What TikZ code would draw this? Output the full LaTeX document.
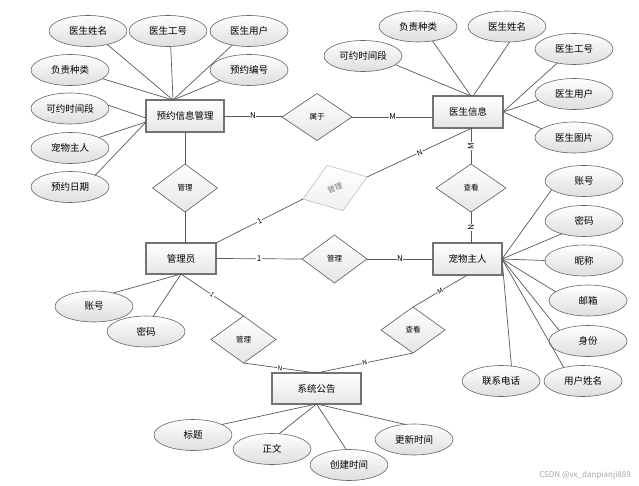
\documentclass[tikz,border=0pt]{standalone}
\usepackage{fontspec}
\setmainfont{Noto Sans CJK SC}
\usetikzlibrary{shapes.geometric}
\begin{document}
\begin{tikzpicture}[x=1pt,y=-1pt,
  line/.style={draw=black!65, line width=0.7pt},
  ent/.style={rectangle, draw=black!55, line width=1.1pt, top color=white, bottom color=black!10, inner sep=0pt, outer sep=0pt, font=\fontsize{9.5}{11}\selectfont},
  attr/.style={ellipse, draw=black!60, line width=0.6pt, top color=white, bottom color=black!13, minimum width=78pt, minimum height=31pt, inner sep=0pt, outer sep=0pt, font=\fontsize{9.5}{11}\selectfont},
  rel/.style={diamond, draw=black!65, line width=0.6pt, top color=white, bottom color=black!10, minimum width=66pt, minimum height=48pt, inner sep=0pt, outer sep=0pt, font=\fontsize{7.5}{8}\selectfont},
  dim/.style={rel, draw=black!25, top color=white, bottom color=black!6, text=black!55},
  card/.style={fill=white, inner sep=0.6pt, font=\fontsize{8}{8}\selectfont},
  cards/.style={card, font=\fontsize{6.5}{7}\selectfont, sloped},
]
\useasboundingbox (0,0) rectangle (639,486);
\fill[white] (0,0) rectangle (639,486);

% entities
\node[ent, minimum width=78pt, minimum height=32pt] (yy) at (185,116) {预约信息管理};
\node[ent, minimum width=70pt, minimum height=32pt] (ys) at (468,112) {医生信息};
\node[ent, minimum width=70pt, minimum height=31pt] (gly) at (181,258.5) {管理员};
\node[ent, minimum width=69pt, minimum height=32pt] (cw) at (467.5,259) {宠物主人};
\node[ent, minimum width=89pt, minimum height=31pt] (xt) at (316.5,388.5) {系统公告};

% relationships
\node[rel, minimum width=70pt, minimum height=47pt] (sy) at (317,117) {属于};
\node[rel, minimum width=65pt, minimum height=48pt] (gl1) at (185,188) {管理};
\node[dim, minimum width=68pt, minimum height=48pt, rotate=19] (gl0) at (335,188) {管理};
\node[rel, minimum width=70pt, minimum height=48pt] (ck1) at (471,188) {查看};
\node[rel, minimum width=65pt, minimum height=48pt] (gl3) at (334.5,259) {管理};
\node[rel, minimum width=65pt, minimum height=47pt] (gl2) at (243.5,339.5) {管理};
\node[rel, minimum width=64pt, minimum height=46pt] (ck2) at (413,330) {查看};

% attributes of 预约信息管理
\node[attr] (a1) at (88,31) {医生姓名};
\node[attr] (a2) at (168,31) {医生工号};
\node[attr] (a3) at (249,31) {医生用户};
\node[attr] (a4) at (249,70) {预约编号};
\node[attr] (a5) at (70,70) {负责种类};
\node[attr] (a6) at (70,108.5) {可约时间段};
\node[attr] (a7) at (70,148) {宠物主人};
\node[attr] (a8) at (70,187) {预约日期};

% attributes of 医生信息
\node[attr] (b1) at (363,56) {可约时间段};
\node[attr] (b2) at (418,26.5) {负责种类};
\node[attr] (b3) at (507,26.5) {医生姓名};
\node[attr] (b4) at (574,49) {医生工号};
\node[attr] (b5) at (574,94) {医生用户};
\node[attr] (b6) at (574,137.5) {医生图片};

% attributes of 宠物主人
\node[attr] (c1) at (584,181) {账号};
\node[attr] (c2) at (584,221) {密码};
\node[attr] (c3) at (584,260.5) {昵称};
\node[attr] (c4) at (588,300.5) {邮箱};
\node[attr] (c5) at (588,341) {身份};
\node[attr] (c6) at (583,381) {用户姓名};
\node[attr] (c7) at (501,381) {联系电话};

% attributes of 管理员
\node[attr] (d1) at (94,306.5) {账号};
\node[attr] (d2) at (146,331.5) {密码};

% attributes of 系统公告
\node[attr] (e1) at (193,435) {标题};
\node[attr] (e2) at (272,449) {正文};
\node[attr] (e3) at (349,465) {创建时间};
\node[attr] (e4) at (414,439.5) {更新时间};

% attribute connectors
\draw[line] (a1.-35) -- ([xshift=-12pt]yy.north);
\draw[line] (a2.-80) -- ([xshift=-12pt]yy.north);
\draw[line] (a3.220) -- ([xshift=-12pt]yy.north);
\draw[line] (a4.200) -- ([xshift=-12pt]yy.north);
\draw[line] (a5.-15) -- ([xshift=-12pt]yy.north);
\draw[line] (a6.5) -- ([yshift=-2pt]yy.west);
\draw[line] (a7.20) -- ([yshift=-6pt]yy.west);
\draw[line] (a8.25) -- ([yshift=-6pt]yy.west);

\draw[line] (b1.-15) -- ([xshift=3pt]ys.north);
\draw[line] (b2.-45) -- ([xshift=3pt]ys.north);
\draw[line] (b3.-80) -- ([xshift=5pt]ys.north);
\draw[line] (b4.220) -- (ys.east);
\draw[line] (b5.190) -- (ys.east);
\draw[line] (b6.165) -- (ys.east);

\draw[line] (c1.195) -- (cw.east);
\draw[line] (c2.210) -- (cw.east);
\draw[line] (c3.180) -- (cw.east);
\draw[line] (c4.165) -- (cw.east);
\draw[line] (c5.160) -- (cw.east);
\draw[line] (c6.145) -- (cw.east);
\draw[line] (c7.55) -- (cw.east);

\draw[line] (d1.35) -- (gly.south);
\draw[line] (d2.65) -- (gly.south);

\draw[line] (e1.20) -- (xt.south);
\draw[line] (e2.65) -- (xt.south);
\draw[line] (e3.100) -- (xt.south);
\draw[line] (e4.120) -- (xt.south);

% relationship connectors
\draw[line] (yy.east) -- node[card]{N} (yy.east -| sy.west);
\draw[line] (sy.east) -- node[card]{M} (sy.east -| ys.west);
\draw[line] (gl1.north) -- (gl1.north |- yy.south);
\draw[line] (gl1.south) -- (gl1.south |- gly.north);
\draw[line] (ck1.north) -- node[card, sloped]{M} (ck1.north |- ys.south);
\draw[line] (ck1.south) -- node[card, sloped]{N} (ck1.south |- cw.north);
\draw[line] (gly.east) -- node[card]{1} (gl3.west);
\draw[line] (gl3.east) -- node[card]{N} (gl3.east -| cw.west);
\draw[line] (gly.north east) -- node[cards, font=\fontsize{7.5}{8}\selectfont]{1} (gl0.west);
\draw[line] (gl0.east) -- node[cards, font=\fontsize{7.5}{8}\selectfont]{N} ([xshift=4pt]ys.south);
\draw[line] (gly.south) -- node[cards]{1} (gl2.north);
\draw[line] (gl2.south) -- node[cards]{N} (xt.north);
\draw[line] (ck2.south) -- node[cards]{N} (xt.north);
\draw[line] (ck2.north) -- node[cards]{M} (cw.south);

% watermark
\node[text=black!35, font=\fontsize{8}{9}\selectfont, anchor=east, inner sep=0pt] (wm) at (631,475) {CSDN @vx\_danpianji889};
\end{tikzpicture}
\end{document}
